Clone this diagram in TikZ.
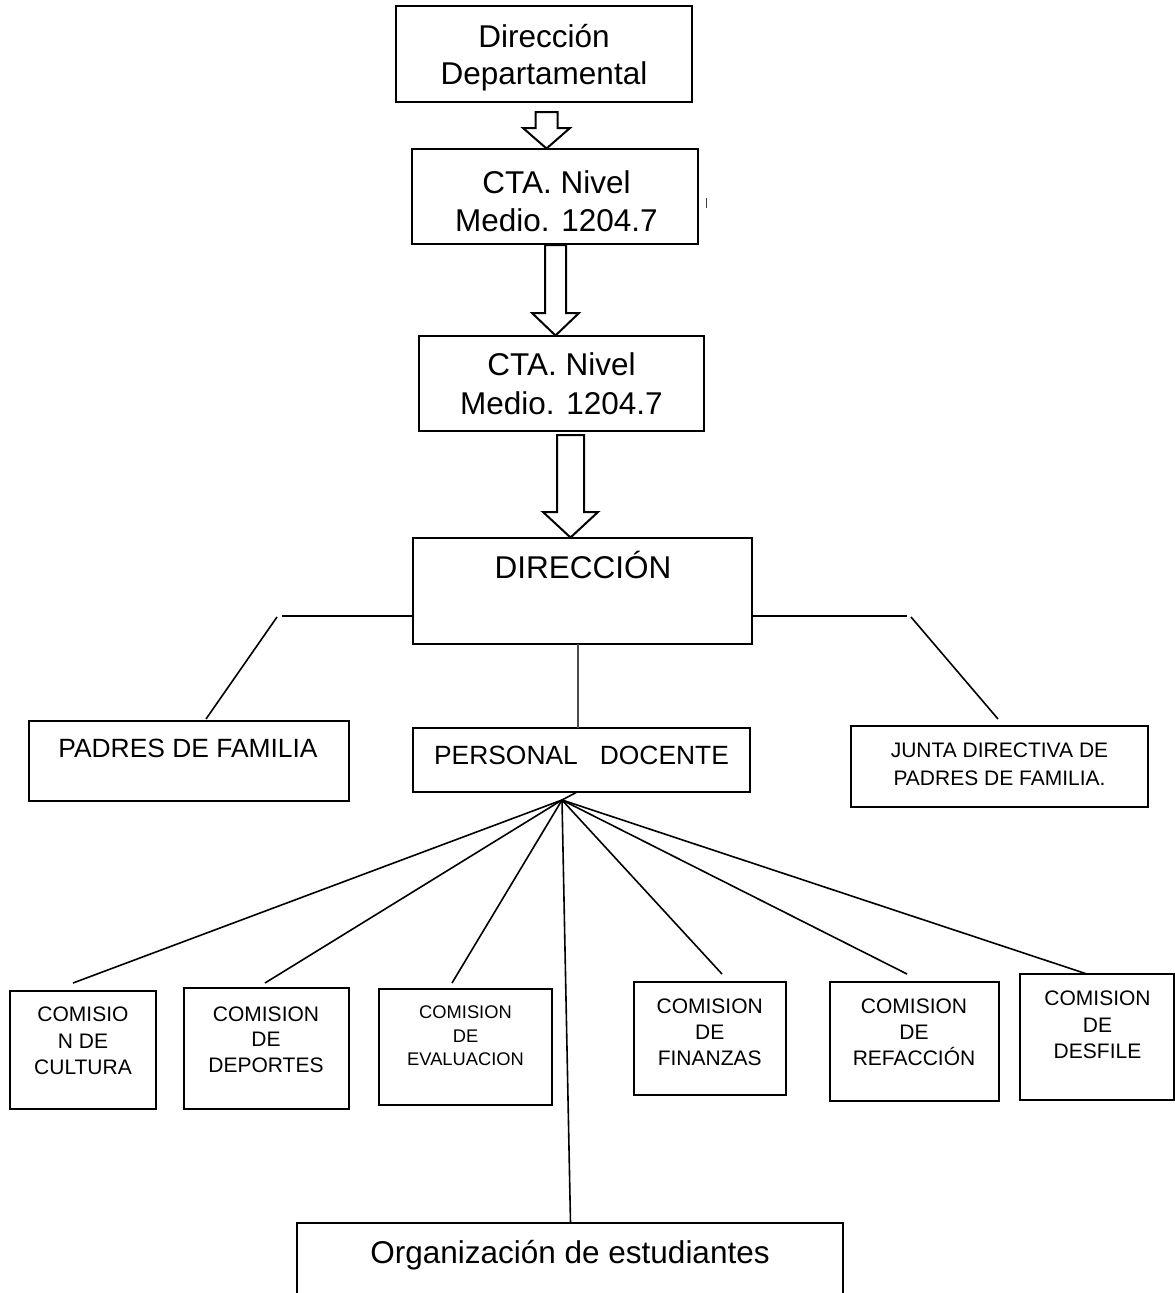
\documentclass[tikz,border=0pt]{standalone}
\usepackage{fontspec}
\setmainfont{Liberation Sans}
\newcommand\fA{\fontsize{31.5}{37}\selectfont}
\newcommand\fB{\fontsize{26.4}{31}\selectfont}
\newcommand\fC{\fontsize{21}{25}\selectfont}
\newcommand\fD{\fontsize{18.3}{22}\selectfont}
\newcommand\blockarr[6]{%
  \draw[arr] (#1-#5,#2) -- (#1+#5,#2) -- (#1+#5,#3) -- (#1+#6,#3) -- (#1,#4)
    -- (#1-#6,#3) -- (#1-#5,#3) -- cycle;}
\begin{document}
\begin{tikzpicture}[x=1pt,y=-1pt,
  bx/.style={draw=black, line width=1.9pt, inner sep=0pt, outer sep=0pt, fill=white},
  txt/.style={anchor=base, inner sep=0pt, outer sep=0pt},
  cn/.style={draw=black, line width=1.6pt},
  cnthin/.style={draw=black!70, line width=1.3pt},
  arr/.style={draw=black, line width=2pt, fill=white, line join=miter}]
\useasboundingbox (0,0) rectangle (1175,1293);
\fill[white] (0,0) rectangle (1175,1293);
\clip (0,0) rectangle (1175,1293);

% ---------- boxes ----------
\node[bx, minimum width=296pt, minimum height=96pt]  (b1) at (544,54) {};
\node[bx, minimum width=286pt, minimum height=95pt]  (b2) at (555,196.5) {};
\node[bx, minimum width=285pt, minimum height=95pt]  (b3) at (561.5,383.5) {};
\node[bx, minimum width=339pt, minimum height=106pt] (dir) at (582.5,591) {};
\node[bx, minimum width=320pt, minimum height=80pt]  (padres) at (189,761) {};
\node[bx, minimum width=337pt, minimum height=64pt]  (personal) at (581.5,760) {};
\node[bx, minimum width=297pt, minimum height=81pt]  (junta) at (999.5,766.5) {};
\node[bx, minimum width=146pt, minimum height=118pt] (cultura) at (83,1050) {};
\node[bx, minimum width=165pt, minimum height=121pt] (deportes) at (266.5,1048.5) {};
\node[bx, minimum width=173pt, minimum height=116pt] (evaluacion) at (465.5,1047) {};
\node[bx, minimum width=152pt, minimum height=113pt] (finanzas) at (710,1038.5) {};
\node[bx, minimum width=169pt, minimum height=119pt] (refaccion) at (914.5,1041.5) {};
\node[bx, minimum width=154pt, minimum height=126pt] (desfile) at (1097,1037) {};
\node[bx, minimum width=546pt, minimum height=100pt] (org) at (570,1273) {};

% ---------- texts ----------
\node[txt] (t1a) at (544,47)   {\fA Dirección};
\node[txt] (t1b) at (544,84.5) {\fA Departamental};
\node[txt] (t2a) at (556.5,193) {\fA CTA. Nivel};
\node[txt] (t2b) at (556.5,231) {\fA Medio. 1204.7};
\node[txt] (t3a) at (561.5,375) {\fA CTA. Nivel};
\node[txt] (t3b) at (561.5,414.5) {\fA Medio. 1204.7};
\node[txt] (tdir) at (583,578) {\fA DIRECCIÓN};
\node[txt] (tpad) at (188,757) {\fB PADRES DE FAMILIA};
\node[txt] (tper) at (581.5,764) {\fB PERSONAL\ \ \ DOCENTE};
\node[txt] (tja) at (999.5,757) {\fC JUNTA DIRECTIVA DE};
\node[txt] (tjb) at (999.5,785) {\fC PADRES DE FAMILIA.};
\node[txt] (tc1) at (83,1021) {\fC COMISIO};
\node[txt] (tc2) at (83,1048) {\fC N DE};
\node[txt] (tc3) at (83,1074) {\fC CULTURA};
\node[txt] (td1) at (266,1021) {\fC COMISION};
\node[txt] (td2) at (266,1046) {\fC DE};
\node[txt] (td3) at (266,1072) {\fC DEPORTES};
\node[txt] (te1) at (465.5,1018) {\fD COMISION};
\node[txt] (te2) at (465.5,1042.5) {\fD DE};
\node[txt] (te3) at (465.5,1065) {\fD EVALUACION};
\node[txt] (tf1) at (709.7,1013) {\fC COMISION};
\node[txt] (tf2) at (709.7,1039) {\fC DE};
\node[txt] (tf3) at (709.7,1065) {\fC FINANZAS};
\node[txt] (tr1) at (914,1013) {\fC COMISION};
\node[txt] (tr2) at (914,1039) {\fC DE};
\node[txt] (tr3) at (914,1065) {\fC REFACCIÓN};
\node[txt] (ts1) at (1097.5,1005) {\fC COMISION};
\node[txt] (ts2) at (1097.5,1032) {\fC DE};
\node[txt] (ts3) at (1097.5,1058) {\fC DESFILE};
\node[txt] (tor) at (570,1263) {\fA Organización de estudiantes};

% ---------- block arrows ----------
\blockarr{546.5}{112}{128}{148.5}{11}{23.5}
\blockarr{555.5}{245}{313}{335.5}{10.5}{23.5}
\blockarr{570.5}{435}{512}{537.5}{13.5}{27.5}

% small tick mark
\coordinate (tickA) at (706.7,198);
\coordinate (tickB) at (706.7,207.5);
\draw[draw=black!75, line width=1.3pt] (tickA) -- (tickB);

% ---------- connectors ----------
\coordinate (hL) at (282,615.7);
\coordinate (dLt) at (277,617);
\coordinate (dLb) at (206,719);
\coordinate (hR) at (907,615.7);
\coordinate (dRt) at (911,617);
\coordinate (dRb) at (998,719);
\coordinate (vx) at (578,0);
\coordinate (fan) at (562,800);
\coordinate (pb) at (577,0);
\coordinate (e1) at (73,983);
\coordinate (e2) at (265,983);
\coordinate (e3) at (452,983);
\coordinate (e4) at (722,974);
\coordinate (e5) at (907,974);
\coordinate (e6) at (1087,0);
\coordinate (eo) at (570.5,0);

\draw[cn] (dir.west |- hL) -- (hL);
\draw[cn] (dLt) -- (dLb);
\draw[cn] (dir.east |- hR) -- (hR);
\draw[cn] (dRt) -- (dRb);
\draw[cnthin] (dir.south -| vx) -- (personal.north -| vx);
\draw[cn] (personal.south -| pb) -- (fan);
\draw[cn] (fan) -- (e1);
\draw[cn] (fan) -- (e2);
\draw[cn] (fan) -- (e3);
\draw[cn] (fan) -- (e4);
\draw[cn] (fan) -- (e5);
\draw[cn] (fan) -- (desfile.north -| e6);
\draw[cn] (fan) -- (org.north -| eo);
\end{tikzpicture}
\end{document}
